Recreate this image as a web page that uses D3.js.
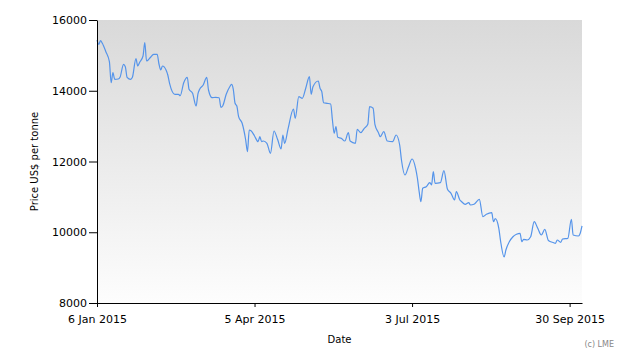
<!DOCTYPE html>
<html>
<head>
<meta charset="utf-8">
<title>LME price</title>
<script src="https://d3js.org/d3.v7.min.js"></script>
<style>
  body { margin: 0; background: #fff; }
  #chart text { font-family: "DejaVu Sans", Verdana, sans-serif; fill: #000; }
</style>
</head>
<body>
<svg id="chart" width="630" height="360"></svg>
<script>
// values
const dates = ["2015-01-06","2015-01-07","2015-01-08","2015-01-09","2015-01-11","2015-01-13","2015-01-14","2015-01-15","2015-01-16","2015-01-18",
  "2015-01-19","2015-01-21","2015-01-22","2015-01-23","2015-01-25","2015-01-26","2015-01-28","2015-01-29","2015-01-30","2015-02-01",
  "2015-02-02","2015-02-03","2015-02-05","2015-02-07","2015-02-09","2015-02-10","2015-02-11","2015-02-12","2015-02-14","2015-02-15",
  "2015-02-16","2015-02-19","2015-02-21","2015-02-22","2015-02-24","2015-02-26","2015-02-27","2015-03-01","2015-03-03","2015-03-04",
  "2015-03-05","2015-03-07","2015-03-09","2015-03-10","2015-03-12","2015-03-14","2015-03-16","2015-03-17","2015-03-18","2015-03-20",
  "2015-03-22","2015-03-23","2015-03-24","2015-03-25","2015-03-26","2015-03-27","2015-03-29","2015-03-31","2015-04-01","2015-04-02",
  "2015-04-03","2015-04-05","2015-04-07","2015-04-08","2015-04-09","2015-04-10","2015-04-12","2015-04-14","2015-04-16","2015-04-18",
  "2015-04-20","2015-04-21","2015-04-22","2015-04-24","2015-04-27","2015-04-28","2015-04-30","2015-05-02","2015-05-04","2015-05-06",
  "2015-05-07","2015-05-08","2015-05-11","2015-05-12","2015-05-13","2015-05-14","2015-05-16","2015-05-18","2015-05-19","2015-05-20",
  "2015-05-21","2015-05-22","2015-05-24","2015-05-26","2015-05-28","2015-05-29","2015-06-01","2015-06-02","2015-06-04","2015-06-06",
  "2015-06-08","2015-06-09","2015-06-11","2015-06-12","2015-06-14","2015-06-15","2015-06-17","2015-06-19","2015-06-22","2015-06-24",
  "2015-06-26","2015-06-27","2015-06-29","2015-07-01","2015-07-03","2015-07-05","2015-07-06","2015-07-07","2015-07-08","2015-07-09",
  "2015-07-11","2015-07-13","2015-07-14","2015-07-15","2015-07-16","2015-07-19","2015-07-21","2015-07-23","2015-07-25","2015-07-27",
  "2015-07-28","2015-07-30","2015-07-31","2015-08-02","2015-08-04","2015-08-05","2015-08-07","2015-08-10","2015-08-12","2015-08-14",
  "2015-08-17","2015-08-18","2015-08-19","2015-08-21","2015-08-22","2015-08-24","2015-08-25","2015-08-27","2015-08-29","2015-08-31",
  "2015-09-02","2015-09-03","2015-09-04","2015-09-06","2015-09-08","2015-09-10","2015-09-12","2015-09-14","2015-09-16","2015-09-18",
  "2015-09-21","2015-09-22","2015-09-23","2015-09-25","2015-09-26","2015-09-29","2015-10-01","2015-10-02","2015-10-05","2015-10-06",
  "2015-10-07"];

const prices = [15430,15313,15415,15341,15104,14821,14228,14510,14324,14332,
  14380,14748,14680,14380,14324,14380,14906,14700,14793,14982,
  15358,14841,14934,15030,15030,14756,14587,14700,14587,14445,
  14211,13900,13900,13860,14228,14380,14041,13928,13569,13908,
  14041,14163,14380,14021,13803,13815,13803,13532,13569,13900,
  14114,14182,14041,13645,13569,13266,13080,12608,12277,12890,
  12871,12721,12560,12701,12560,12580,12514,12232,12862,12627,
  12353,12749,12514,12938,13484,13221,13832,13787,14086,14397,
  13900,14114,14276,14069,13973,13662,13645,13625,13173,12797,
  12984,12684,12656,12579,12814,12579,12514,12910,12814,12938,
  13051,13549,13504,13051,12814,12701,12842,12579,12560,12749,
  12466,12042,11618,11853,12071,11808,11533,11146,10863,11242,
  11288,11401,11336,11712,11384,11401,11740,11214,11101,10912,
  11146,10912,10863,10790,10835,10770,10790,10931,10439,10507,
  10552,10298,10383,10111,9753,9300,9498,9738,9874,9942,
  9970,9733,9801,9781,9874,10298,10111,9922,10083,9767,
  9704,9687,9781,9716,9809,9829,10366,9922,9894,9970,
  10177];

const xTickLabels = ["2015-01-06", "2015-04-05", "2015-07-03", "2015-09-30"];
const yTicks = [8000, 10000, 12000, 14000, 16000];

const svg = d3.select("#chart");
const margin = {top: 20, left: 97, right: 48, bottom: 57};
const w = 630 - margin.left - margin.right;
const h = 360 - margin.top - margin.bottom;

const parse = d3.utcParse("%Y-%m-%d");
const data = dates.map((d, i) => ({date: parse(d), price: prices[i]}));

const x = d3.scaleUtc()
  .domain(d3.extent(data, d => d.date))
  .range([0, w]);
const y = d3.scaleLinear().domain([8000, 16000]).range([h, 0]);

// gradient background
const defs = svg.append("defs");
const grad = defs.append("linearGradient")
  .attr("id", "bg").attr("x1", 0).attr("y1", 0).attr("x2", 0).attr("y2", 1);
grad.append("stop").attr("offset", "0%").attr("stop-color", "#d9d9d9");
grad.append("stop").attr("offset", "100%").attr("stop-color", "#fdfdfd");

const g = svg.append("g").attr("transform", `translate(${margin.left},${margin.top})`);

g.append("rect")
  .attr("x", 0).attr("y", 0)
  .attr("width", w).attr("height", h)
  .attr("fill", "url(#bg)");

const line = d3.line()
  .x(d => x(d.date))
  .y(d => y(d.price))
  .curve(d3.curveMonotoneX);

g.append("path")
  .datum(data)
  .attr("fill", "none")
  .attr("stroke", "#5594ea")
  .attr("stroke-width", 1.2)
  .attr("d", line);

const xAxis = g.append("g")
  .attr("transform", `translate(0,${h})`)
  .call(d3.axisBottom(x)
    .tickValues(xTickLabels.map(parse))
    .tickFormat(d3.utcFormat("%-d %b %Y"))
    .tickSizeInner(4).tickSizeOuter(0).tickPadding(8));

const yAxis = g.append("g")
  .call(d3.axisLeft(y)
    .tickValues(yTicks)
    .tickFormat(d3.format("d"))
    .tickSizeInner(8).tickSizeOuter(0).tickPadding(2));

[xAxis, yAxis].forEach(a => {
  a.selectAll("text").style("font-size", "11px");
  a.select(".domain").attr("stroke", "#000");
  a.selectAll(".tick line").attr("stroke", "#000");
});

g.append("text")
  .attr("x", w / 2).attr("y", h + 40)
  .attr("text-anchor", "middle")
  .style("font-size", "10px")
  .text("Date");

g.append("text")
  .attr("transform", `translate(${-59},${h / 2}) rotate(-90)`)
  .attr("text-anchor", "middle")
  .style("font-size", "10px")
  .text("Price US$ per tonne");

svg.append("text")
  .attr("x", 614).attr("y", 347)
  .attr("text-anchor", "end")
  .style("font-size", "8px")
  .style("fill", "#888")
  .text("(c) LME");
</script>
</body>
</html>
